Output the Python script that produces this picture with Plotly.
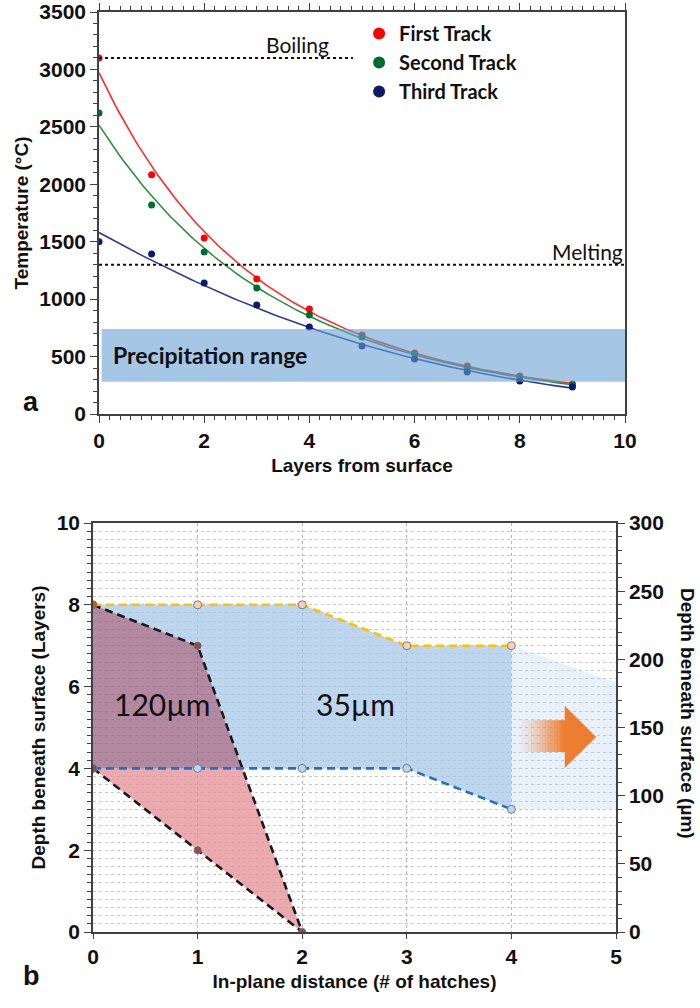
import numpy as np
import plotly.graph_objects as go

# ---------------- data: panel a ----------------
layers = [0, 1, 2, 3, 4, 5, 6, 7, 8, 9]
first_track = [3100, 2082, 1533, 1176, 915, 688, 531, 418, 331, 261]
second_track = [2620, 1820, 1411, 1097, 862, 670, 523, 400, 322, 253]
third_track = [1500, 1394, 1141, 950, 758, 592, 479, 366, 288, 235]
boiling_temp = 3100
melting_temp = 1300
precip_low, precip_high = 280, 740

# ---------------- data: panel b ----------------
hatch_x = [0, 1, 2, 3, 4]
upper_layers = [8, 8, 8, 7, 7]
lower_layers = [4, 4, 4, 4, 3]
melt_x = [0, 1, 2]
melt_top = [8, 7, 0]
melt_bot = [4, 2, 0]
ext_x = [4, 5, 5, 4]
ext_y = [7, 6.1, 3, 3]
um_per_layer = 30

TICKFONT = dict(family="Liberation Sans, Arial", size=21, color="#111", weight="bold")
TITLEFONT = dict(family="Liberation Sans, Arial", size=19, color="#111", weight="bold")
CAL = "Lato, Carlito, Calibri, sans-serif"
AXC = "#404040"

fig = go.Figure()

# ---------- panel a ----------
colors = ["#ff0000", "#006b30", "#0d1a6b"]
fitcols = ["#ff2a2a", "#2f8f3f", "#2c3a9c"]
names = ["First Track", "Second Track", "Third Track"]
xx = np.linspace(0, 9, 120)
for ys, c, fc, n in zip([first_track, second_track, third_track], colors, fitcols, names):
    coef = np.polyfit(layers, np.log(ys), 2)
    fig.add_trace(go.Scatter(x=xx, y=np.exp(np.polyval(coef, xx)), mode="lines",
                             line=dict(color=fc, width=1.6), showlegend=False,
                             xaxis="x", yaxis="y", hoverinfo="skip"))
for ys, c, n in zip([first_track, second_track, third_track], colors, names):
    fig.add_trace(go.Scatter(x=layers, y=ys, mode="markers", name=n,
                             marker=dict(color=c, size=7), xaxis="x", yaxis="y"))

fig.add_trace(go.Scatter(x=[0, 4.83], y=[boiling_temp, boiling_temp], mode="lines",
                         line=dict(color="#111", width=2, dash="3px,3px"),
                         showlegend=False, xaxis="x", yaxis="y"))
fig.add_trace(go.Scatter(x=[0, 10], y=[melting_temp, melting_temp], mode="lines",
                         line=dict(color="#111", width=2, dash="3px,3px"),
                         showlegend=False, xaxis="x", yaxis="y"))
# invisible trace so the mirrored top tick axis is drawn
fig.add_trace(go.Scatter(x=layers, y=first_track, mode="markers", marker=dict(opacity=0),
                         showlegend=False, xaxis="x3", yaxis="y", hoverinfo="skip"))

fig.add_shape(type="rect", xref="x", yref="y", x0=0.05, x1=10, y0=precip_low, y1=precip_high,
              fillcolor="rgba(107,160,213,0.6)", line=dict(width=0), layer="above")

# ---------- panel b ----------
xc = float(np.interp(lower_layers[0], melt_top[::-1], melt_x[::-1]))
y_lo = lower_layers[0]

# blue-only region
bx = list(hatch_x) + [x for x in reversed(hatch_x) if x > xc] + [xc] + \
     [mx for mx, my in zip(reversed(melt_x), reversed(melt_top)) if 0 < mx < xc and my > y_lo]
by = list(upper_layers) + [ly for x, ly in zip(reversed(hatch_x), reversed(lower_layers)) if x > xc] + [y_lo] + \
     [my for mx, my in zip(reversed(melt_x), reversed(melt_top)) if 0 < mx < xc and my > y_lo]
fig.add_trace(go.Scatter(x=bx + [bx[0]], y=by + [by[0]], mode="lines", fill="toself",
                         fillcolor="rgba(167,200,232,0.75)", line=dict(width=0),
                         showlegend=False, xaxis="x2", yaxis="y2", hoverinfo="skip"))
# overlap (mauve) region
mx_ = [mx for mx, my in zip(melt_x, melt_top) if my > y_lo] + [xc, melt_x[0]]
my_ = [my for mx, my in zip(melt_x, melt_top) if my > y_lo] + [y_lo, melt_bot[0]]
fig.add_trace(go.Scatter(x=mx_ + [mx_[0]], y=my_ + [my_[0]], mode="lines", fill="toself",
                         fillcolor="rgba(152,98,128,0.75)", line=dict(width=0),
                         showlegend=False, xaxis="x2", yaxis="y2", hoverinfo="skip"))
# lower red region
px_ = [melt_x[0], xc] + [mx for mx, my in zip(melt_x, melt_top) if my < y_lo] + \
      [mx for mx, my in zip(reversed(melt_x), reversed(melt_bot)) if 0 < mx < melt_x[-1]]
py_ = [melt_bot[0], y_lo] + [my for mx, my in zip(melt_x, melt_top) if my < y_lo] + \
      [my for mx, my in zip(reversed(melt_x), reversed(melt_bot)) if 0 < mx < melt_x[-1]]
fig.add_trace(go.Scatter(x=px_ + [px_[0]], y=py_ + [py_[0]], mode="lines", fill="toself",
                         fillcolor="rgba(227,142,148,0.75)", line=dict(width=0),
                         showlegend=False, xaxis="x2", yaxis="y2", hoverinfo="skip"))
# extension region
fig.add_trace(go.Scatter(x=ext_x + [ext_x[0]], y=ext_y + [ext_y[0]], mode="lines", fill="toself",
                         fillcolor="rgba(180,208,236,0.3)", line=dict(width=0),
                         showlegend=False, xaxis="x2", yaxis="y2", hoverinfo="skip"))

# dashed boundaries
for ys in (melt_top, melt_bot):
    fig.add_trace(go.Scatter(x=melt_x, y=ys, mode="lines",
                             line=dict(color="#1a1a1a", width=2.6, dash="8px,5px"),
                             showlegend=False, xaxis="x2", yaxis="y2"))
fig.add_trace(go.Scatter(x=hatch_x, y=upper_layers, mode="lines+markers",
                         line=dict(color="#ffc000", width=2.6, dash="8px,5px"),
                         marker=dict(size=8, color=["#c55a11", "#f6d3b4", "#f6d3b4", "#f6d3b4", "#f6d3b4"],
                                     line=dict(color="#7a7a7a", width=1)),
                         showlegend=False, xaxis="x2", yaxis="y2"))
fig.add_trace(go.Scatter(x=hatch_x, y=lower_layers, mode="lines+markers",
                         line=dict(color="#1f72c4", width=2.6, dash="8px,5px"),
                         marker=dict(size=8, color=["#8a4a60", "#bdd7ee", "#bdd7ee", "#bdd7ee", "#bdd7ee"],
                                     line=dict(color="#6a7f95", width=1)),
                         showlegend=False, xaxis="x2", yaxis="y2"))
fig.add_trace(go.Scatter(x=melt_x[1:] + melt_x[1:2], y=melt_top[1:] + melt_bot[1:2], mode="markers",
                         marker=dict(size=7, color="#a04848", line=dict(color="#6a6a6a", width=1)),
                         showlegend=False, xaxis="x2", yaxis="y2"))
# invisible trace so the micrometre axis is drawn
fig.add_trace(go.Scatter(x=hatch_x, y=[v * um_per_layer for v in lower_layers], mode="markers",
                         marker=dict(opacity=0), showlegend=False, xaxis="x2", yaxis="y3",
                         hoverinfo="skip"))

# gradient arrow
ARROW_COLOR = (237, 125, 49)
sx0, sx1, sy0, sy1 = 4.08, 4.51, 4.40, 5.18
nseg = 16
for i in range(nseg):
    a = ((i + 1) / nseg) ** 1.3
    fig.add_shape(type="rect", xref="x2", yref="y2",
                  x0=sx0 + (sx1 - sx0) * i / nseg, x1=sx0 + (sx1 - sx0) * (i + 1) / nseg + 0.002,
                  y0=sy0, y1=sy1, line=dict(width=0),
                  fillcolor=f"rgba({ARROW_COLOR[0]},{ARROW_COLOR[1]},{ARROW_COLOR[2]},{a:.3f})",
                  layer="above")
fig.add_shape(type="path", xref="x2", yref="y2",
              path="M 4.51 4.01 L 4.81 4.77 L 4.51 5.53 Z",
              fillcolor="rgb(237,125,49)", line=dict(width=0), layer="above")

# ---------- annotations ----------
ann = [
    dict(x=3.78, y=3214, xref="x", yref="y", text="Boiling", showarrow=False,
         font=dict(family=CAL, size=21, color="#111")),
    dict(x=9.28, y=1411, xref="x", yref="y", text="Melting", showarrow=False,
         font=dict(family=CAL, size=21, color="#111")),
    dict(x=2.11, y=514, xref="x", yref="y", text="Precipitation range", showarrow=False,
         font=dict(family=CAL, size=23, color="#111", weight="bold")),
    dict(x=0.66, y=5.57, xref="x2", yref="y2", text="120µm", showarrow=False,
         font=dict(family=CAL, size=30, color="#111")),
    dict(x=2.51, y=5.57, xref="x2", yref="y2", text="35µm", showarrow=False,
         font=dict(family=CAL, size=30, color="#111")),
    dict(x=21 / 700, y=1 - 402 / 1008, xref="paper", yref="paper", text="a", showarrow=False,
         font=dict(family="Liberation Sans, Arial", size=27, color="#111", weight="bold")),
    dict(x=21 / 700, y=1 - 993 / 1008, xref="paper", yref="paper", text="b", showarrow=False,
         font=dict(family="Liberation Sans, Arial", size=27, color="#111", weight="bold")),
    dict(x=688 / 700, y=1 - 713 / 1008, xref="paper", yref="paper", text="Depth beneath surface (µm)",
         xanchor="center", yanchor="middle",
         showarrow=False, textangle=90, font=TITLEFONT),
]

fig.update_layout(
    width=700, height=1008, margin=dict(l=0, r=0, t=0, b=0, autoexpand=False),
    paper_bgcolor="white", plot_bgcolor="white",
    showlegend=True,
    legend=dict(x=0.513, y=0.986, xanchor="left", yanchor="top", bgcolor="rgba(0,0,0,0)",
                font=dict(family=CAL, size=20, color="#111", weight="bold"),
                itemsizing="constant", tracegroupgap=0),
    annotations=ann,
    xaxis=dict(domain=[99 / 700, 625 / 700], anchor="y", range=[0, 10], dtick=2,
               showline=True, linecolor=AXC, linewidth=1.5,
               ticks="outside", ticklen=7, tickwidth=1.2, tickcolor=AXC,
               minor=dict(dtick=0.2, ticks="outside", ticklen=4, tickcolor=AXC),
               showgrid=False, zeroline=False, tickfont=TICKFONT, automargin=False,
               title=dict(text="Layers from surface", font=TITLEFONT, standoff=8)),
    xaxis3=dict(overlaying="x", side="top", anchor="y", range=[0, 10], dtick=2,
                showline=True, linecolor=AXC, linewidth=1.5,
                ticks="outside", ticklen=7, tickwidth=1.2, tickcolor=AXC,
                minor=dict(dtick=0.2, ticks="outside", ticklen=4, tickcolor=AXC),
                showticklabels=False, showgrid=False, zeroline=False, automargin=False),
    yaxis=dict(domain=[1 - 414 / 1008, 1 - 12 / 1008], anchor="x", range=[0, 3500], dtick=500,
               showline=True, linecolor=AXC, linewidth=1.5, mirror=True,
               ticks="outside", ticklen=7, tickwidth=1.2, tickcolor=AXC,
               minor=dict(dtick=100, ticks="outside", ticklen=4, tickcolor=AXC),
               showgrid=False, zeroline=False, tickfont=TICKFONT, automargin=False,
               title=dict(text="Temperature (°C)", font=TITLEFONT, standoff=6)),
    xaxis2=dict(domain=[93 / 700, 616 / 700], anchor="y2", range=[0, 5], dtick=1,
                showline=True, linecolor=AXC, linewidth=1.5, mirror=True,
                ticks="outside", ticklen=5, tickcolor=AXC,
                showgrid=True, griddash="dot", gridcolor="#b5b5b5", gridwidth=1,
                zeroline=False, tickfont=TICKFONT, automargin=False,
                title=dict(text="In-plane distance (# of hatches)", font=TITLEFONT, standoff=8)),
    yaxis2=dict(domain=[1 - 932 / 1008, 1 - 523 / 1008], anchor="x2", range=[0, 10], dtick=2,
                showline=True, linecolor=AXC, linewidth=1.5,
                ticks="outside", ticklen=7, tickcolor=AXC,
                minor=dict(dtick=0.2, ticks="outside", ticklen=4, tickcolor=AXC,
                           showgrid=True, griddash="dot", gridcolor="#c8c8c8"),
                showgrid=True, griddash="dot", gridcolor="#c8c8c8",
                zeroline=False, tickfont=TICKFONT, automargin=False,
                title=dict(text="Depth beneath surface (Layers)", font=TITLEFONT, standoff=6)),
    yaxis3=dict(overlaying="y2", side="right", anchor="x2", range=[0, 300], dtick=50,
                showline=True, linecolor=AXC, linewidth=1.5,
                ticks="outside", ticklen=7, tickcolor=AXC,
                minor=dict(dtick=10, ticks="outside", ticklen=4, tickcolor=AXC),
                showgrid=False, zeroline=False, tickfont=TICKFONT, automargin=False),
)

fig.write_html("out.html", config={"displayModeBar": False},
               post_script="document.body.style.margin='0';document.body.style.overflow='hidden';")
